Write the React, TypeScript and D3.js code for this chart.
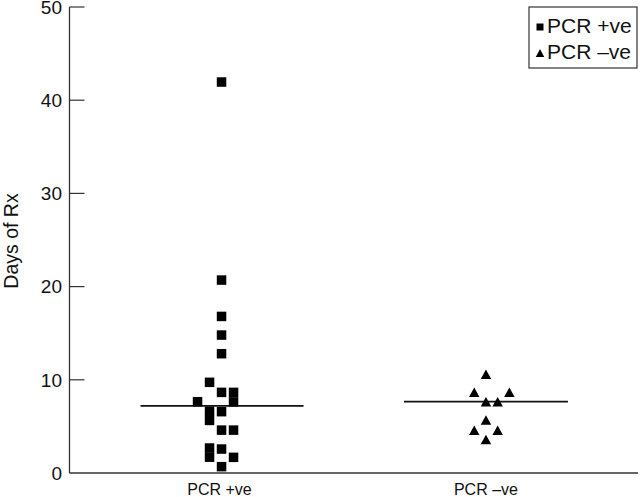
import React from "react";
import * as d3 from "d3";

const categories = ["PCR +ve", "PCR \u2013ve"];
const yTicks = [0, 10, 20, 30, 40, 50];

// PCR +ve: days of Rx and jitter column
const posValues = [41.95, 20.7, 16.8, 14.8, 12.8, 9.73, 8.65, 8.65, 7.63, 7.65, 6.62, 5.64, 6.58, 4.6, 4.6, 2.68, 1.7, 2.57, 1.68, 0.68];
const posCols = [0, 0, 0, 0, 0, -1, 0, 1, 1, -2, -1, -1, 0, 0, 1, -1, -1, 0, 1, 0];
// PCR -ve
const negValues = [10.6, 8.66, 8.66, 7.65, 7.65, 5.7, 4.6, 4.6, 3.6];
const negCols = [0, -1, 2, 0, 1, 0, -1, 1, 0];
const medians = [7.2, 7.65];

const W = 640;
const H = 497;
const FONT = "'Liberation Sans', Arial, sans-serif";

export default function App() {
  const left = 69.5;
  const right = 638;
  const top = 7;
  const bottom = 473;
  const y = d3.scaleLinear().domain([0, 50]).range([bottom, top]);
  const x = d3.scalePoint<string>().domain(categories).range([left, right]).padding(0.575);
  const step = 12;
  const sq = 9.5;
  const triW = 10.5;
  const triH = 9.5;
  const tri = (cx: number, cy: number, w: number, h: number) =>
    `M${cx},${cy - h / 2}L${cx + w / 2},${cy + h / 2}L${cx - w / 2},${cy + h / 2}Z`;
  const c0 = x(categories[0])!;
  const c1 = x(categories[1])!;
  return (
    <svg width={W} height={H} style={{ position: "absolute", left: 0, top: 0, background: "#fff" }} fontFamily={FONT}>
      {/* axes */}
      <line x1={left} x2={left} y1={top} y2={bottom} stroke="#333" strokeWidth={1.3} />
      <line x1={left} x2={right} y1={bottom} y2={bottom} stroke="#333" strokeWidth={1.3} />
      {yTicks.map((t) => (
        <g key={t}>
          {t > 0 && <line x1={left} x2={left + 15} y1={y(t)} y2={y(t)} stroke="#333" strokeWidth={1.2} />}
          <text x={62} y={y(t)} dy="0.36em" textAnchor="end" fontSize={19} fill="#111">
            {t}
          </text>
        </g>
      ))}
      <text transform={`translate(18,241) rotate(-90)`} textAnchor="middle" fontSize={19.5} fill="#111">
        Days of Rx
      </text>
      {categories.map((c, i) => (
        <text key={c} x={(i === 0 ? -2 : 0) + x(c)!} y={495} textAnchor="middle" fontSize={16} fill="#111">
          {c}
        </text>
      ))}
      {/* medians */}
      <line x1={c0 - 81} x2={c0 + 82} y1={y(medians[0])} y2={y(medians[0])} stroke="#111" strokeWidth={1.8} />
      <line x1={c1 - 82} x2={c1 + 82} y1={y(medians[1])} y2={y(medians[1])} stroke="#111" strokeWidth={1.8} />
      {/* points */}
      {posValues.map((v, i) => (
        <rect key={"p" + i} x={c0 + posCols[i] * step - sq / 2} y={y(v) - sq / 2} width={sq} height={sq} fill="#000" />
      ))}
      {negValues.map((v, i) => (
        <path key={"n" + i} d={tri(c1 + negCols[i] * 11.7, y(v), triW, triH)} fill="#000" />
      ))}
      {/* legend */}
      <rect x={529} y={7} width={108} height={61} fill="#fff" stroke="#333" strokeWidth={1.2} />
      <rect x={536.5} y={23.5} width={7} height={7} fill="#000" />
      <text x={547} y={32.5} fontSize={21} fill="#111">{categories[0]}</text>
      <path d={tri(540, 53, 8.5, 8)} fill="#000" />
      <text x={547} y={58.5} fontSize={21} fill="#111">{categories[1]}</text>
    </svg>
  );
}
